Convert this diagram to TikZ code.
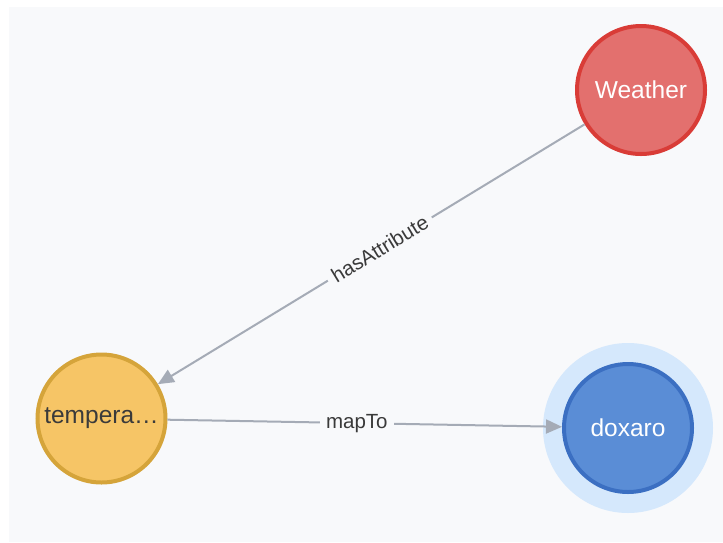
\documentclass[tikz,border=0pt]{standalone}
\usepackage{fontspec}
\setmainfont{Liberation Sans}
\usetikzlibrary{arrows.meta}

\definecolor{canvas}{HTML}{F8F9FB}
\definecolor{edgegray}{HTML}{A5ABB6}
\definecolor{labelgray}{HTML}{3A3A3A}
\definecolor{redfill}{HTML}{E3706E}
\definecolor{redline}{HTML}{D93C37}
\definecolor{yellowfill}{HTML}{F6C566}
\definecolor{yellowline}{HTML}{D5A43A}
\definecolor{bluefill}{HTML}{5A8DD6}
\definecolor{blueline}{HTML}{3B6FC2}
\definecolor{bluehalo}{HTML}{D5E8FC}

\tikzset{
  entity/.style={circle, line width=4pt, minimum size=128pt, inner sep=0pt,
    font=\fontsize{24.5}{28}\selectfont},
  relation/.style={draw=edgegray, line width=2pt,
    -{Triangle[length=16pt,width=14pt]}, edgegray},
  rellabel/.style={fill=canvas, text=labelgray, inner xsep=6pt, inner ysep=1pt,
    font=\fontsize{20.5}{23}\selectfont}
}

\begin{document}
\begin{tikzpicture}[x=1pt, y=-1pt]
  % page and canvas
  \fill[white] (0,0) rectangle (723,542);
  \fill[canvas] (9,7) rectangle (723,542);
  \useasboundingbox (0,0) rectangle (723,542);

  % selection halo behind the blue node
  \node[circle, fill=bluehalo, minimum size=170pt, inner sep=0pt] (halo) at (628,428) {};

  % entities
  \node[entity, fill=redfill, draw=redline, text=white] (weather) at (641,90) {Weather};
  \node[entity, fill=yellowfill, draw=yellowline, text=labelgray] (temp) at (101.5,418.5) {tempera…};
  \node[entity, fill=bluefill, draw=blueline, text=white] (doxaro) at (628,428) {doxaro};

  % relations
  \draw[relation] (weather) -- node[rellabel, sloped, pos=0.48] {hasAttribute} (temp);
  \draw[relation] (temp) -- node[rellabel, pos=0.48] {mapTo} (doxaro);
\end{tikzpicture}
\end{document}
